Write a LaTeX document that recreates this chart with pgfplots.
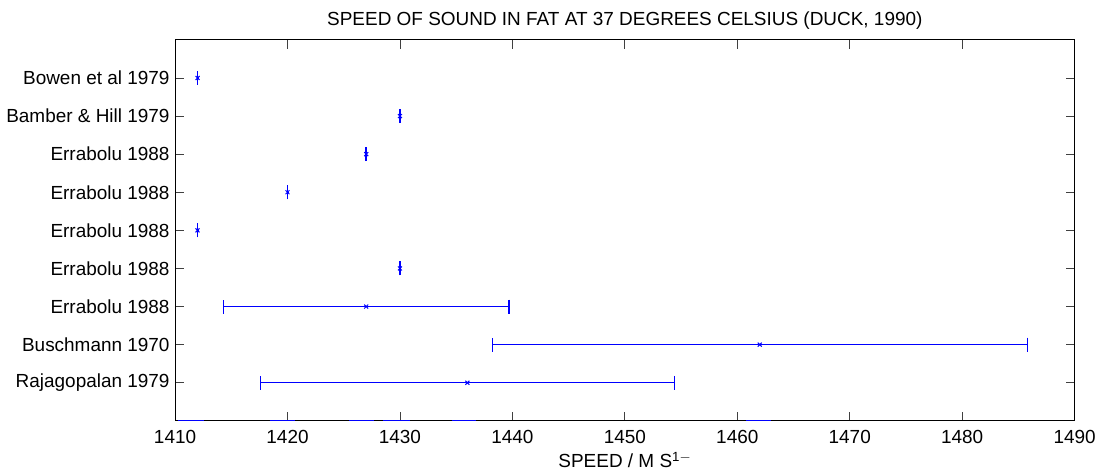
\documentclass[border=0pt]{standalone}
\usepackage{pgfplots}
\pgfplotsset{compat=1.18}
\usepackage{fontspec}
\setmainfont{Liberation Sans}
\begin{document}
\fontsize{19}{22}\selectfont
\begin{tikzpicture}
\begin{axis}[
  at={(0,0)}, anchor=south west,
  scale only axis, width=902pt, height=382pt,
  xmin=1410, xmax=1490, ymin=0, ymax=10,
  xtick={1410,1420,...,1490},
  ytick={1,...,9},
  yticklabels={Rajagopalan 1979, Buschmann 1970, Errabolu 1988, Errabolu 1988, Errabolu 1988, Errabolu 1988, Errabolu 1988, Bamber \& Hill 1979, Bowen et al 1979},
  tick align=inside, major tick length=9pt,
  /pgf/number format/1000 sep={},
  /pgf/number format/assume math mode=true,
  ticklabel style={font=\fontsize{19}{22}\selectfont},
  title style={font=\fontsize{19}{22}\selectfont, yshift=-2pt},
  label style={font=\fontsize{19}{22}\selectfont},
  xticklabel style={yshift=-3pt},
  yticklabel style={xshift=1pt},
  title={SPEED OF SOUND IN FAT AT 37 DEGREES CELSIUS (DUCK, 1990)},
  xlabel={SPEED / M S\textsuperscript{1$-$}},
  axis line style={line width=1.1pt},
  tick style={line width=0.9pt, black!75},
  xlabel style={yshift=4pt},
  error bars/error bar style={draw=blue, line width=1.3pt},
]
% artefact segments on the bottom axis line
\addplot[blue, line width=1.6pt, no marks, unbounded coords=jump] coordinates {
  (1410.3,0) (1412.6,0) (nan,nan)
  (1418.4,0) (1420.7,0) (nan,nan)
  (1425.5,0) (1427.7,0) (nan,nan)
  (1428.5,0) (1430.9,0) (nan,nan)
  (1434.6,0) (1436.8,0) (nan,nan)
  (1460.8,0) (1463.0,0)
};
\addplot[blue, only marks, mark=x, mark size=2.8pt, mark options={line width=1pt},
  error bars/.cd, x dir=both, x explicit,
  error bar style={draw=blue, line width=1.3pt},
  error mark options={blue, mark size=7pt, line width=1.3pt, rotate=90}]
  coordinates {
  (1412,9) +- (0.02,0)
  (1430,8) +- (0.02,0)
  (1427,7) +- (0.02,0)
  (1420,6) +- (0.02,0)
  (1412,5) +- (0.02,0)
  (1430,4) +- (0.02,0)
  (1427,3) +- (12.7,0)
  (1462,2) +- (23.8,0)
  (1436,1) +- (18.4,0)
};
\end{axis}
\path (-174pt,-50pt) rectangle (928pt,422pt);
\end{tikzpicture}
\end{document}
